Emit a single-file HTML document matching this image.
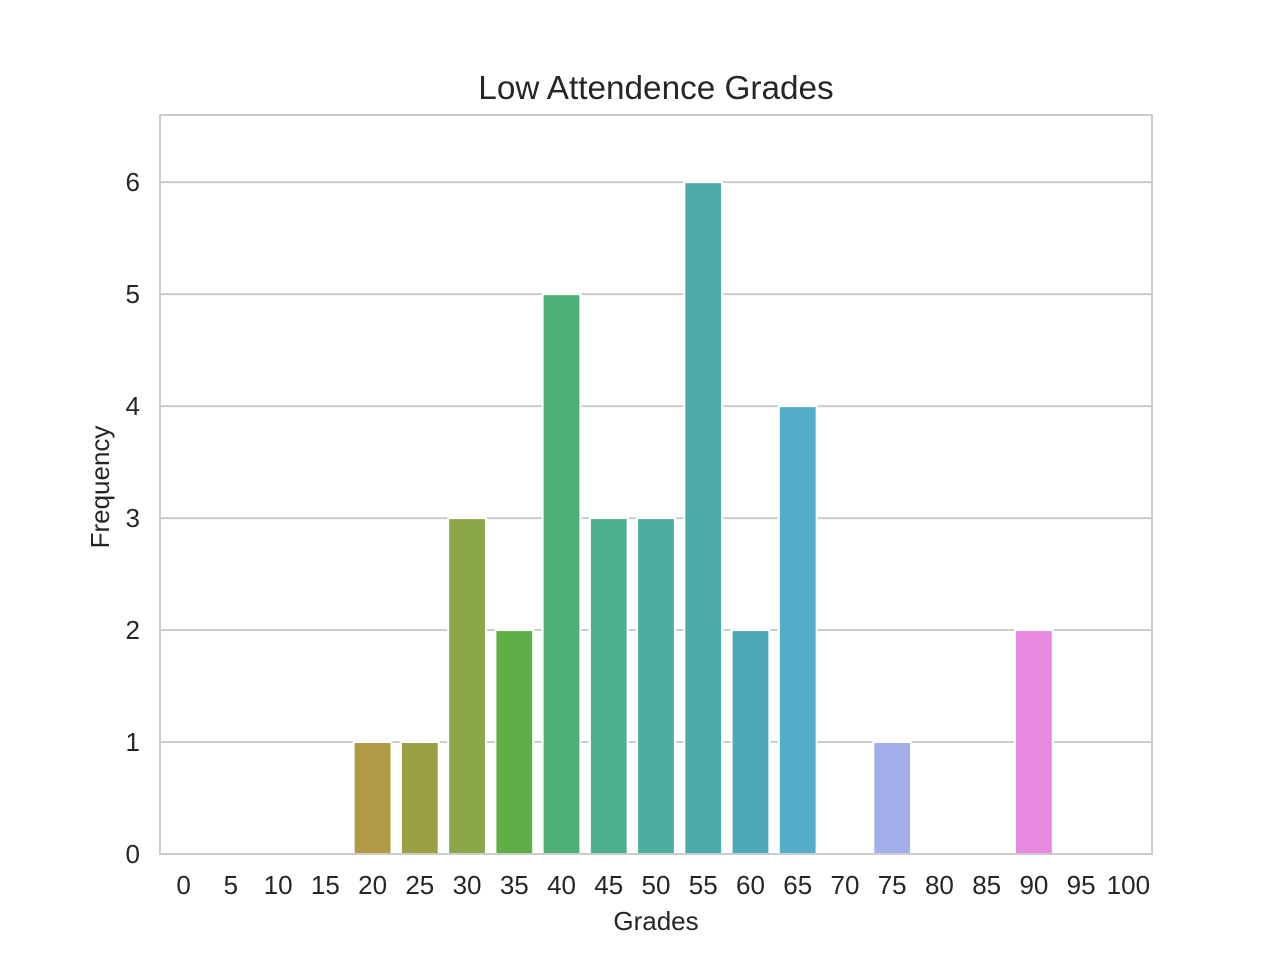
<!DOCTYPE html>
<html><head><meta charset="utf-8"><style>
html,body{margin:0;padding:0;background:#fff;}
svg text{font-family:"Liberation Sans",Arial,sans-serif;fill:#262626;}
</style></head><body>
<svg id="chart" width="1280" height="960" viewBox="0 0 1280 960" xmlns="http://www.w3.org/2000/svg">
<rect x="0" y="0" width="1280" height="960" fill="#fff"/>
<g id="grid"></g>
<g id="bars"></g>
<g id="ticks"></g>
<rect x="160" y="115" width="992" height="739" fill="none" stroke="#cccccc" stroke-width="2"/>
<text x="656" y="99" font-size="33.3" text-anchor="middle">Low Attendence Grades</text>
<text x="656" y="930" font-size="26" text-anchor="middle">Grades</text>
<text transform="translate(109,487) rotate(-90)" font-size="26" text-anchor="middle">Frequency</text>
</svg>
<script>
const categories = ["0","5","10","15","20","25","30","35","40","45","50","55","60","65","70","75","80","85","90","95","100"];
const counts = [0,0,0,0,1,1,3,2,5,3,3,6,2,4,0,1,0,0,2,0,0];
const colors = ["#f77189","#f7754f","#dc8932","#c39532","#b09a46","#9ba043","#8aa849","#5eae47","#4caf75","#4bb08f","#4bae9e","#4baaaa","#4ca9b7","#54adc9","#6fa8e0","#a1aee9","#bc8deb","#d27fe9","#e98ae0","#f569b7","#f5708f"];
const yTicks = [0,1,2,3,4,5,6];
const L=160,R=1152,T=115,B=854,YMAX=6.6;
const band=(R-L)/categories.length;
const xc=i=>L+band*(i+0.5);
const y=v=>B-(B-T)*v/YMAX;
const NS="http://www.w3.org/2000/svg";
function mk(tag,attrs,parent){const e=document.createElementNS(NS,tag);for(const k in attrs)e.setAttribute(k,attrs[k]);parent.appendChild(e);return e;}
const grid=document.getElementById('grid'),bars=document.getElementById('bars'),ticks=document.getElementById('ticks');
yTicks.forEach(t=>{
  const g=mk('line',{x1:L,x2:R,y1:y(t),y2:y(t),stroke:'#cccccc','stroke-width':2},grid);
  
  
  const tx=mk('text',{x:140,y:y(t)+9,'font-size':26,'text-anchor':'end'},ticks);
  tx.textContent=t;
  
  
});
categories.forEach((c,i)=>{
  const w=band*0.8;
  const r=mk('rect',{x:xc(i)-w/2,y:y(counts[i]),width:w,height:B-y(counts[i]),fill:colors[i],stroke:'#fff','stroke-width':2},bars);
  
  
  const tx=mk('text',{x:xc(i),y:894,'font-size':26,'text-anchor':'middle'},ticks);
  tx.textContent=c;
  
  
});
</script>
</body></html>
